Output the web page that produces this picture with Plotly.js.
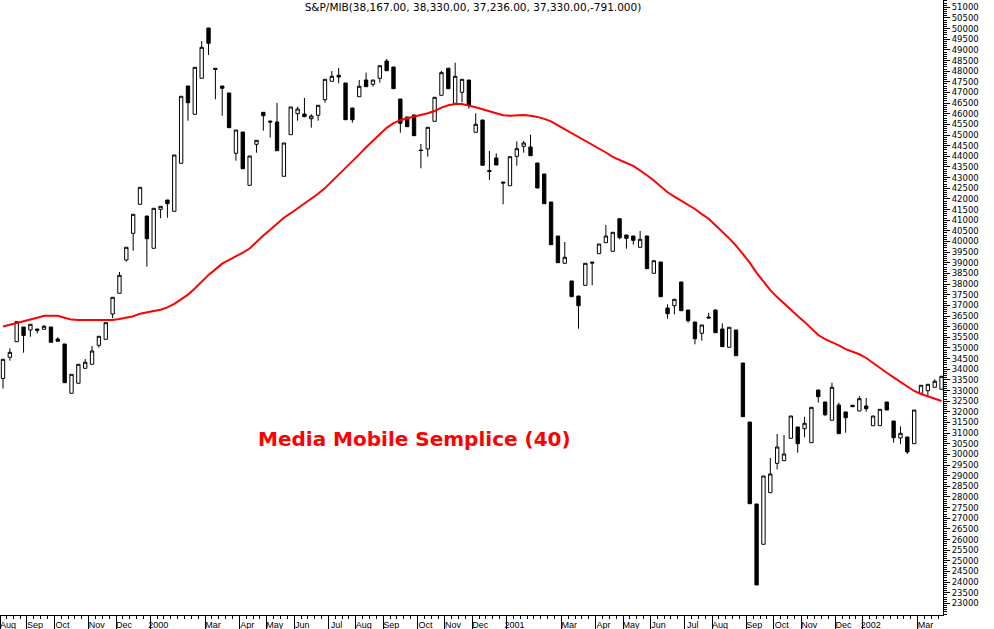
<!DOCTYPE html>
<html><head><meta charset="utf-8">
<script src="https://cdn.plot.ly/plotly-3.0.1.min.js"></script>
<style>html,body{margin:0;padding:0;background:#fff;} #chart{width:994px;height:629px;}</style>
</head><body><div id="chart"></div>
<script>
// Weekly S&P/MIB bars, first bar dated Friday 1999-08-06
const firstBarDate = '1999-08-06';
const opens = [33565,34561,35293,35984,35843,35890,35876,35984,35420,35185,
32870,33340,34044,34232,35124,35406,36594,37567,39131,40385,
41747,41197,39680,41512,41949,41418,43673,47304,45974,47665,
50028,48135,47304,46975,44143,45143,42640,44565,46068,45660,
45613,43062,45016,46003,45988,45768,45928,46660,47524,47806,
47445,46270,46801,47585,47383,47665,48478,48196,46693,45848,
45941,44298,44345,45645,46867,48135,46491,47008,47585,45129,
45707,43335,43922,42795,42621,44002,44471,44438,43687,43170,
41855,40258,38976,38145,37440,37942,39037,39427,39943,39539,
41071,40305,40258,39727,40258,38506,39037,36876,36983,38098,
36782,36218,35688,36454,36782,35890,35030,35843,34293,31522,
27670,25777,28201,29582,29704,30756,31287,31207,30550,33025,
32461,31602,32320,31992,32306,32039,32273,31348,31348,32461,
31568,30770,30817,30503,32870,32992,33152,33058];
const highs = [34466,34983,36233,35984,36111,35890,36078,35984,35500,35185,
33762,34232,34481,35092,35547,36186,37379,38567,39727,41277,
42545,41197,41559,41653,41949,44063,46820,47304,48182,49417,
50028,48135,47304,46975,45237,45143,44016,44753,46068,45660,
46505,44626,46317,46331,46740,45974,46397,47618,48008,48149,
47445,46270,47585,47928,47585,48257,48572,48196,46693,45848,
45941,44579,45364,46773,48008,48163,48398,47618,47585,46021,
45707,44250,44143,42795,43983,44706,44720,45016,43687,43170,
41855,40258,39976,38145,37440,38976,39037,39882,40775,40431,
41071,40305,40258,40493,40258,39098,39037,37050,37285,38098,
36782,36218,36078,36656,36815,36157,35970,35843,34293,31522,
27670,28985,29831,30958,30911,31803,31287,31771,32212,33025,
32461,33368,32428,31992,32306,32743,32649,31803,32118,32461,
31568,31320,30817,32085,33246,33292,33528,33668];
const lows = [33095,34401,35293,34777,35528,35688,35876,35265,35312,33368,
32870,33340,34044,34232,35012,35406,36393,37567,39051,39568,
41747,38816,39680,41090,41118,41418,43673,45674,45974,47665,
48760,46679,45909,45345,43795,43419,42640,44171,45204,44875,
44265,43062,45016,45674,45862,45345,45674,46519,47524,47430,
45721,45580,46801,47271,47270,47459,48022,47177,45110,45392,
44969,43438,43983,45645,46867,47177,46491,46538,46237,45129,
43579,42888,43593,41747,42621,43560,44171,44030,42513,41775,
39849,39004,38976,37407,35904,37942,37942,39427,39943,39539,
40103,39662,39849,39727,38722,38506,37407,36374,36580,36749,
36186,35171,35340,36407,35716,35059,35030,34636,31770,27684,
23866,25777,28201,29300,29704,30756,30080,30803,30550,32428,
31800,31602,30973,31019,32240,32039,32006,31348,31348,32085,
30550,30488,30019,30503,32870,32757,33152,33058];
const closes = [34466,34795,36233,35585,36111,35829,36017,35265,35312,33368,
33762,34232,34326,34856,35547,36186,37379,38412,39727,41277,
42545,40131,41559,41653,41775,44063,46820,46519,48182,49121,
49309,48088,47196,45345,45237,43419,44016,44753,45909,45613,
44265,44626,46317,46223,45862,45894,46397,47618,47759,47726,
45721,45721,47290,47271,47585,48257,48022,47177,45552,45392,
44969,44274,45364,46773,47928,47177,47759,47618,46411,45505,
43579,43288,43593,42748,43983,44359,44626,44030,42513,41775,
39849,39004,39258,37407,36984,38976,38990,39882,40258,40431,
40178,40150,40056,40103,38722,39098,37407,36609,37285,36749,
36280,35435,36078,36407,35716,35059,35970,34636,31770,27684,
23866,28985,29080,30347,30019,31803,30503,31461,32212,32710,
31864,33152,30973,31724,32240,32616,32146,31803,32118,32085,
30784,30991,30112,32085,33246,33292,33434,33668];
// 40-week simple moving average at each bar
const ma40 = [36007,36082,36158,36233,36317,36416,36515,36515,36515,36421,
36331,36313,36313,36313,36313,36313,36313,36360,36407,36486,
36609,36684,36735,36792,36904,37074,37290,37506,37792,38116,
38431,38689,38957,39131,39290,39478,39671,39986,40282,40549,
40826,41118,41329,41554,41780,42001,42240,42508,42818,43151,
43461,43786,44091,44424,44739,45072,45340,45556,45697,45786,
45862,45937,46021,46129,46289,46397,46458,46458,46397,46308,
46209,46106,46002,45932,45904,45909,45941,45904,45852,45758,
45646,45458,45279,45082,44889,44720,44551,44382,44180,43973,
43814,43687,43551,43353,43114,42865,42592,42311,42109,41916,
41714,41526,41287,41071,40765,40465,40145,39802,39431,39009,
38530,38093,37712,37388,37083,36782,36496,36223,35904,35608,
35416,35275,35124,34941,34824,34702,34528,34288,34053,33833,
33617,33391,33180,32978,32837,32719,32597,32508];
const monthTickDates = ['1999-08-02 23:00','1999-08-30 12:00','1999-09-27 12:00','1999-11-01 12:00','1999-11-29 12:00',
'2000-01-03 12:00','2000-02-28 12:00','2000-04-03 12:00','2000-05-01 12:00','2000-05-29 12:00','2000-07-03 12:00',
'2000-07-31 12:00','2000-08-28 12:00','2000-10-02 12:00','2000-10-30 12:00','2000-11-27 12:00',
'2001-01-01 12:00','2001-02-26 12:00','2001-04-02 12:00','2001-04-30 12:00','2001-05-28 12:00','2001-07-02 12:00',
'2001-07-30 12:00','2001-09-03 12:00','2001-10-01 12:00','2001-10-29 12:00','2001-12-03 12:00',
'2001-12-31 12:00','2002-02-25 12:00'];
const monthTickLabels = ['Aug','Sep','Oct','Nov','Dec','2000','Mar','Apr','May','Jun','Jul','Aug','Sep','Oct','Nov','Dec',
'2001','Mar','Apr','May','Jun','Jul','Aug','Sep','Oct','Nov','Dec','2002','Mar'];
const priceTickFirst = 23000, priceTickLast = 51000, priceTickStep = 500;
const titleText = 'S&amp;P/MIB(38,167.00, 38,330.00, 37,236.00, 37,330.00,-791.000)';
const maLabel = 'Media Mobile Semplice (40)';

function weeklyDates(start, n) {
  const out = [];
  const t0 = Date.parse(start + 'T00:00:00Z');
  for (let i = 0; i < n; i++) {
    const d = new Date(t0 + i * 7 * 86400000);
    out.push(d.toISOString().slice(0, 10));
  }
  return out;
}
const dates = weeklyDates(firstBarDate, closes.length);
const priceTicks = [];
for (let v = priceTickFirst; v <= priceTickLast; v += priceTickStep) priceTicks.push(v);

const candles = {
  type: 'candlestick', x: dates, open: opens, high: highs, low: lows, close: closes,
  increasing: {line: {color: '#000000', width: 1}, fillcolor: '#ffffff'},
  decreasing: {line: {color: '#000000', width: 1}, fillcolor: '#000000'},
  whiskerwidth: 0, showlegend: false, hoverinfo: 'skip'
};
const maLine = {
  type: 'scatter', mode: 'lines', x: dates, y: ma40,
  line: {color: '#ff0000', width: 2}, showlegend: false, hoverinfo: 'skip'
};

const layout = {
  width: 994, height: 629,
  margin: {l: 0, r: 51, t: 0, b: 14, pad: 0},
  paper_bgcolor: '#ffffff', plot_bgcolor: '#ffffff',
  showlegend: false, boxgap: 0.3,
  font: {family: 'Liberation Sans, Arial, sans-serif', color: '#000000', size: 10},
  title: {text: titleText, font: {size: 10.5, family: 'DejaVu Sans, sans-serif', color: '#000000'},
          xref: 'container', yref: 'container',
          x: 473/994, xanchor: 'center', y: 1 - 7/629, yanchor: 'middle'},
  xaxis: {
    type: 'date', range: ['1999-08-02 22:30', '2002-03-23 11:00'],
    rangeslider: {visible: false},
    showgrid: false, zeroline: false, showline: true, linecolor: '#000000', linewidth: 1,
    tickmode: 'array', tickvals: monthTickDates, ticktext: monthTickLabels,
    ticks: 'outside', ticklen: 14, tickcolor: '#000000', tickwidth: 1,
    ticklabelstandoff: -13, ticklabelshift: 8,
    tickfont: {size: 9, color: '#000000'},
    minor: {ticks: 'outside', ticklen: 3, tickcolor: '#000000', tick0: '1999-08-02 12:00', dtick: 7*86400000, showgrid: false}
  },
  yaxis: {
    side: 'right', range: [22456, 51343],
    showgrid: false, zeroline: false, showline: true, linecolor: '#000000', linewidth: 1,
    tickmode: 'array', tickvals: priceTicks, tickformat: 'd',
    ticks: 'outside', ticklen: 6, tickcolor: '#000000',
    tickfont: {size: 8.5, family: 'DejaVu Sans, sans-serif', color: '#000000'},
    minor: {ticks: 'outside', ticklen: 3, tickcolor: '#000000', tickmode: 'linear', tick0: 0, dtick: 100, showgrid: false}
  },
  annotations: [{
    text: maLabel, xref: 'paper', yref: 'paper', x: 414/943, y: 1 - 439/615,
    xanchor: 'center', yanchor: 'middle', showarrow: false,
    font: {family: 'DejaVu Sans, sans-serif', size: 20, color: '#ff0000', weight: 'bold'}
  }]
};

Plotly.newPlot('chart', [candles, maLine], layout, {displayModeBar: false, staticPlot: true});
</script>
</body></html>
